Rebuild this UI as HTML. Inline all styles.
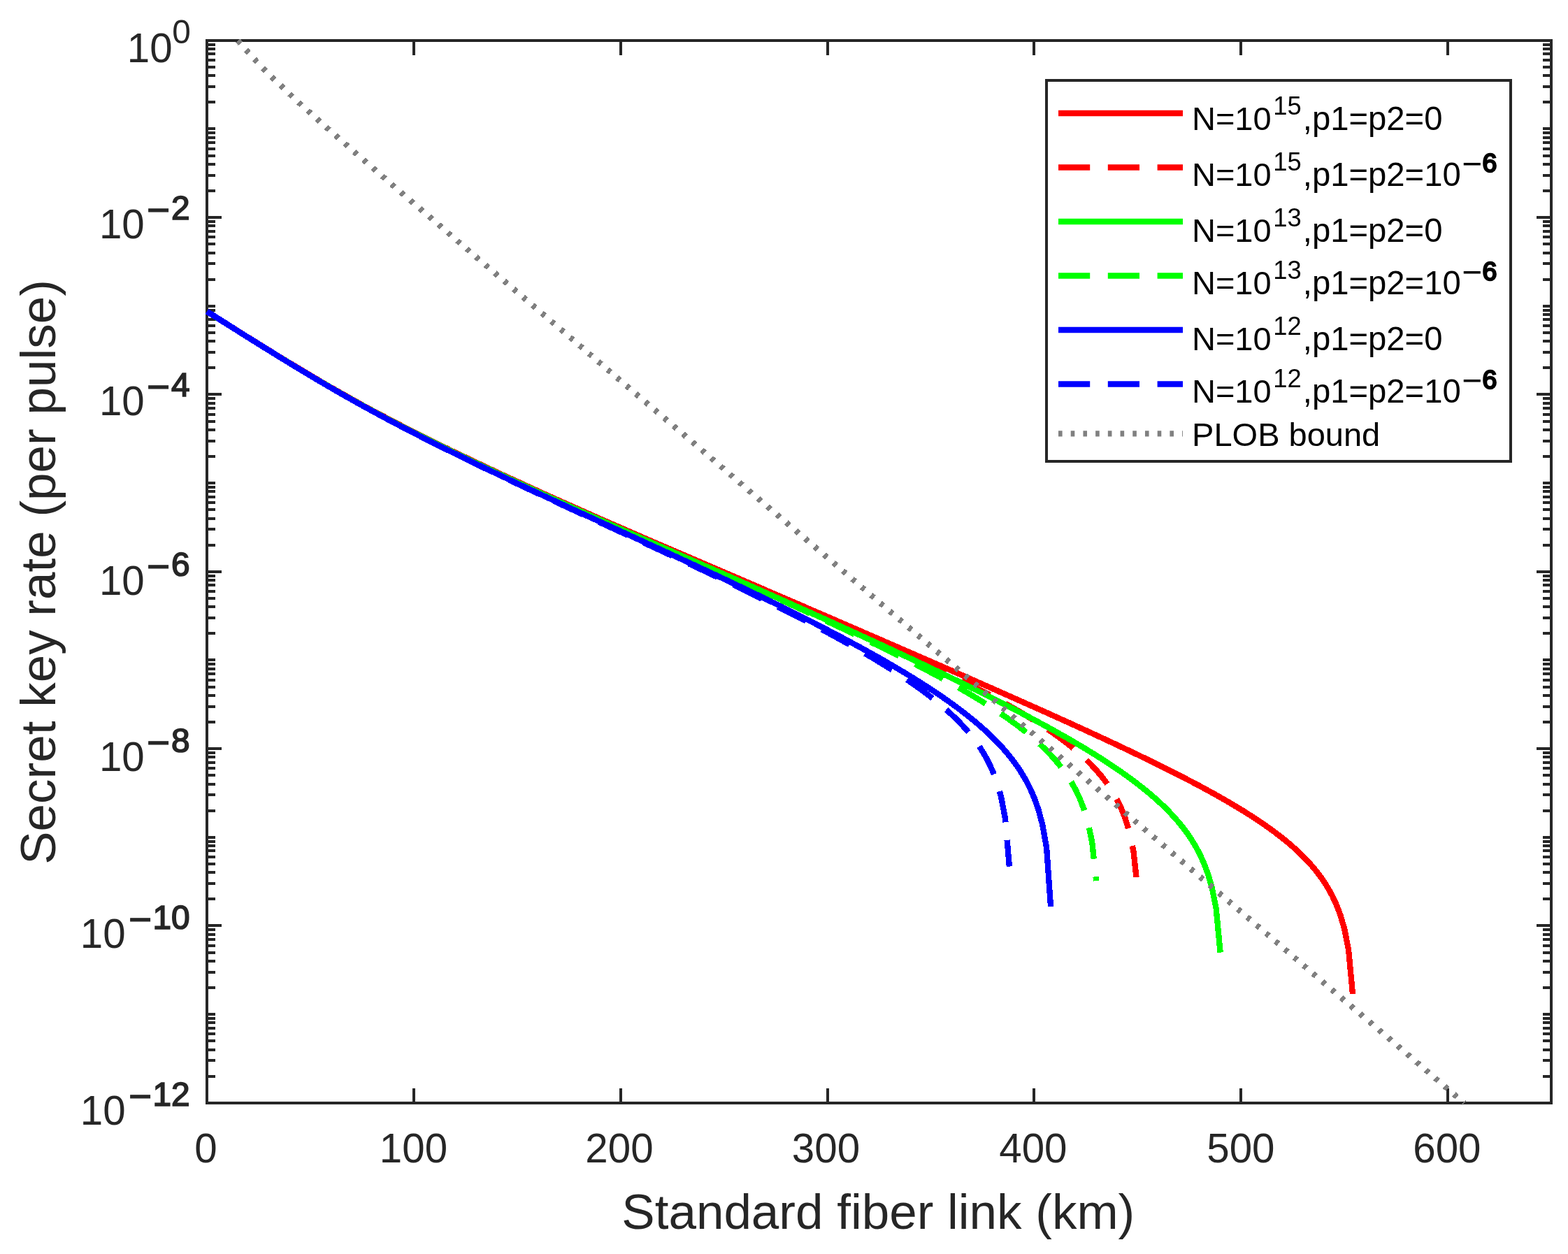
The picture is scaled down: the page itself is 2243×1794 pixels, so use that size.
<!DOCTYPE html>
<html lang="en"><head><meta charset="utf-8"><title>Secret key rate vs standard fiber link</title>
<style>html,body{margin:0;padding:0;background:#fff;overflow:hidden}svg text{white-space:pre}</style></head>
<body>
<svg xmlns="http://www.w3.org/2000/svg" width="2243" height="1794" viewBox="0 0 2243 1794" style="display:block">
<rect x="0" y="0" width="2243" height="1794" fill="#fff"/>
<g stroke="#262626" stroke-width="4" fill="none" shape-rendering="crispEdges">
<rect x="296.0" y="58.0" width="1923.0" height="1520.0"/>
<path d="M592 1578.0 V1557.0 M592 58.0 V79.0"/>
<path d="M888 1578.0 V1557.0 M888 58.0 V79.0"/>
<path d="M1184 1578.0 V1557.0 M1184 58.0 V79.0"/>
<path d="M1479 1578.0 V1557.0 M1479 58.0 V79.0"/>
<path d="M1775 1578.0 V1557.0 M1775 58.0 V79.0"/>
<path d="M2071 1578.0 V1557.0 M2071 58.0 V79.0"/>
<path d="M296.0 146 H308.0 M2219.0 146 H2207.0"/>
<path d="M296.0 124 H308.0 M2219.0 124 H2207.0"/>
<path d="M296.0 108 H308.0 M2219.0 108 H2207.0"/>
<path d="M296.0 96 H308.0 M2219.0 96 H2207.0"/>
<path d="M296.0 86 H308.0 M2219.0 86 H2207.0"/>
<path d="M296.0 77 H308.0 M2219.0 77 H2207.0"/>
<path d="M296.0 70 H308.0 M2219.0 70 H2207.0"/>
<path d="M296.0 64 H308.0 M2219.0 64 H2207.0"/>
<path d="M296.0 184 H308.0 M2219.0 184 H2207.0"/>
<path d="M296.0 273 H308.0 M2219.0 273 H2207.0"/>
<path d="M296.0 251 H308.0 M2219.0 251 H2207.0"/>
<path d="M296.0 235 H308.0 M2219.0 235 H2207.0"/>
<path d="M296.0 223 H308.0 M2219.0 223 H2207.0"/>
<path d="M296.0 213 H308.0 M2219.0 213 H2207.0"/>
<path d="M296.0 204 H308.0 M2219.0 204 H2207.0"/>
<path d="M296.0 197 H308.0 M2219.0 197 H2207.0"/>
<path d="M296.0 190 H308.0 M2219.0 190 H2207.0"/>
<path d="M296.0 311 H317.0 M2219.0 311 H2198.0"/>
<path d="M296.0 400 H308.0 M2219.0 400 H2207.0"/>
<path d="M296.0 377 H308.0 M2219.0 377 H2207.0"/>
<path d="M296.0 362 H308.0 M2219.0 362 H2207.0"/>
<path d="M296.0 349 H308.0 M2219.0 349 H2207.0"/>
<path d="M296.0 339 H308.0 M2219.0 339 H2207.0"/>
<path d="M296.0 331 H308.0 M2219.0 331 H2207.0"/>
<path d="M296.0 323 H308.0 M2219.0 323 H2207.0"/>
<path d="M296.0 317 H308.0 M2219.0 317 H2207.0"/>
<path d="M296.0 438 H308.0 M2219.0 438 H2207.0"/>
<path d="M296.0 526 H308.0 M2219.0 526 H2207.0"/>
<path d="M296.0 504 H308.0 M2219.0 504 H2207.0"/>
<path d="M296.0 488 H308.0 M2219.0 488 H2207.0"/>
<path d="M296.0 476 H308.0 M2219.0 476 H2207.0"/>
<path d="M296.0 466 H308.0 M2219.0 466 H2207.0"/>
<path d="M296.0 457 H308.0 M2219.0 457 H2207.0"/>
<path d="M296.0 450 H308.0 M2219.0 450 H2207.0"/>
<path d="M296.0 444 H308.0 M2219.0 444 H2207.0"/>
<path d="M296.0 564 H317.0 M2219.0 564 H2198.0"/>
<path d="M296.0 653 H308.0 M2219.0 653 H2207.0"/>
<path d="M296.0 631 H308.0 M2219.0 631 H2207.0"/>
<path d="M296.0 615 H308.0 M2219.0 615 H2207.0"/>
<path d="M296.0 603 H308.0 M2219.0 603 H2207.0"/>
<path d="M296.0 593 H308.0 M2219.0 593 H2207.0"/>
<path d="M296.0 584 H308.0 M2219.0 584 H2207.0"/>
<path d="M296.0 577 H308.0 M2219.0 577 H2207.0"/>
<path d="M296.0 570 H308.0 M2219.0 570 H2207.0"/>
<path d="M296.0 691 H308.0 M2219.0 691 H2207.0"/>
<path d="M296.0 780 H308.0 M2219.0 780 H2207.0"/>
<path d="M296.0 757 H308.0 M2219.0 757 H2207.0"/>
<path d="M296.0 742 H308.0 M2219.0 742 H2207.0"/>
<path d="M296.0 729 H308.0 M2219.0 729 H2207.0"/>
<path d="M296.0 719 H308.0 M2219.0 719 H2207.0"/>
<path d="M296.0 711 H308.0 M2219.0 711 H2207.0"/>
<path d="M296.0 703 H308.0 M2219.0 703 H2207.0"/>
<path d="M296.0 697 H308.0 M2219.0 697 H2207.0"/>
<path d="M296.0 818 H317.0 M2219.0 818 H2198.0"/>
<path d="M296.0 906 H308.0 M2219.0 906 H2207.0"/>
<path d="M296.0 884 H308.0 M2219.0 884 H2207.0"/>
<path d="M296.0 868 H308.0 M2219.0 868 H2207.0"/>
<path d="M296.0 856 H308.0 M2219.0 856 H2207.0"/>
<path d="M296.0 846 H308.0 M2219.0 846 H2207.0"/>
<path d="M296.0 837 H308.0 M2219.0 837 H2207.0"/>
<path d="M296.0 830 H308.0 M2219.0 830 H2207.0"/>
<path d="M296.0 824 H308.0 M2219.0 824 H2207.0"/>
<path d="M296.0 944 H308.0 M2219.0 944 H2207.0"/>
<path d="M296.0 1033 H308.0 M2219.0 1033 H2207.0"/>
<path d="M296.0 1011 H308.0 M2219.0 1011 H2207.0"/>
<path d="M296.0 995 H308.0 M2219.0 995 H2207.0"/>
<path d="M296.0 983 H308.0 M2219.0 983 H2207.0"/>
<path d="M296.0 973 H308.0 M2219.0 973 H2207.0"/>
<path d="M296.0 964 H308.0 M2219.0 964 H2207.0"/>
<path d="M296.0 957 H308.0 M2219.0 957 H2207.0"/>
<path d="M296.0 950 H308.0 M2219.0 950 H2207.0"/>
<path d="M296.0 1071 H317.0 M2219.0 1071 H2198.0"/>
<path d="M296.0 1160 H308.0 M2219.0 1160 H2207.0"/>
<path d="M296.0 1137 H308.0 M2219.0 1137 H2207.0"/>
<path d="M296.0 1122 H308.0 M2219.0 1122 H2207.0"/>
<path d="M296.0 1109 H308.0 M2219.0 1109 H2207.0"/>
<path d="M296.0 1099 H308.0 M2219.0 1099 H2207.0"/>
<path d="M296.0 1091 H308.0 M2219.0 1091 H2207.0"/>
<path d="M296.0 1083 H308.0 M2219.0 1083 H2207.0"/>
<path d="M296.0 1077 H308.0 M2219.0 1077 H2207.0"/>
<path d="M296.0 1198 H308.0 M2219.0 1198 H2207.0"/>
<path d="M296.0 1286 H308.0 M2219.0 1286 H2207.0"/>
<path d="M296.0 1264 H308.0 M2219.0 1264 H2207.0"/>
<path d="M296.0 1248 H308.0 M2219.0 1248 H2207.0"/>
<path d="M296.0 1236 H308.0 M2219.0 1236 H2207.0"/>
<path d="M296.0 1226 H308.0 M2219.0 1226 H2207.0"/>
<path d="M296.0 1217 H308.0 M2219.0 1217 H2207.0"/>
<path d="M296.0 1210 H308.0 M2219.0 1210 H2207.0"/>
<path d="M296.0 1204 H308.0 M2219.0 1204 H2207.0"/>
<path d="M296.0 1324 H317.0 M2219.0 1324 H2198.0"/>
<path d="M296.0 1413 H308.0 M2219.0 1413 H2207.0"/>
<path d="M296.0 1391 H308.0 M2219.0 1391 H2207.0"/>
<path d="M296.0 1375 H308.0 M2219.0 1375 H2207.0"/>
<path d="M296.0 1363 H308.0 M2219.0 1363 H2207.0"/>
<path d="M296.0 1353 H308.0 M2219.0 1353 H2207.0"/>
<path d="M296.0 1344 H308.0 M2219.0 1344 H2207.0"/>
<path d="M296.0 1337 H308.0 M2219.0 1337 H2207.0"/>
<path d="M296.0 1330 H308.0 M2219.0 1330 H2207.0"/>
<path d="M296.0 1451 H308.0 M2219.0 1451 H2207.0"/>
<path d="M296.0 1540 H308.0 M2219.0 1540 H2207.0"/>
<path d="M296.0 1517 H308.0 M2219.0 1517 H2207.0"/>
<path d="M296.0 1502 H308.0 M2219.0 1502 H2207.0"/>
<path d="M296.0 1489 H308.0 M2219.0 1489 H2207.0"/>
<path d="M296.0 1479 H308.0 M2219.0 1479 H2207.0"/>
<path d="M296.0 1471 H308.0 M2219.0 1471 H2207.0"/>
<path d="M296.0 1463 H308.0 M2219.0 1463 H2207.0"/>
<path d="M296.0 1457 H308.0 M2219.0 1457 H2207.0"/>
</g>
<g font-family="'Liberation Sans', sans-serif" fill="#262626">
<text x="294.5" y="1663.2" font-size="58.3" text-anchor="middle">0</text>
<text x="591.5" y="1663.2" font-size="58.3" text-anchor="middle">100</text>
<text x="886.0" y="1663.2" font-size="58.3" text-anchor="middle">200</text>
<text x="1181.5" y="1663.2" font-size="58.3" text-anchor="middle">300</text>
<text x="1477.9" y="1663.2" font-size="58.3" text-anchor="middle">400</text>
<text x="1774.9" y="1663.2" font-size="58.3" text-anchor="middle">500</text>
<text x="2069.9" y="1663.2" font-size="58.3" text-anchor="middle">600</text>
<text font-size="58.3"><tspan x="246.6" y="88.90" text-anchor="end">10</tspan><tspan x="272.8" y="61.80" text-anchor="end" font-size="47.8">0</tspan></text>
<text font-size="58.3"><tspan x="206.8" y="340.95" text-anchor="end">10</tspan><tspan x="209.7" y="319.55" font-size="57.5" stroke="#262626" stroke-width="1">−</tspan><tspan x="271.6" y="314.35" text-anchor="end" font-size="47.8" stroke="#262626" stroke-width="1.7">2</tspan></text>
<text font-size="58.3"><tspan x="206.8" y="593.90" text-anchor="end">10</tspan><tspan x="209.7" y="572.50" font-size="57.5" stroke="#262626" stroke-width="1">−</tspan><tspan x="271.6" y="567.30" text-anchor="end" font-size="47.8" stroke="#262626" stroke-width="1.7">4</tspan></text>
<text font-size="58.3"><tspan x="206.8" y="851.00" text-anchor="end">10</tspan><tspan x="209.7" y="829.60" font-size="57.5" stroke="#262626" stroke-width="1">−</tspan><tspan x="271.6" y="824.40" text-anchor="end" font-size="47.8" stroke="#262626" stroke-width="1.7">6</tspan></text>
<text font-size="58.3"><tspan x="206.8" y="1102.96" text-anchor="end">10</tspan><tspan x="209.7" y="1081.56" font-size="57.5" stroke="#262626" stroke-width="1">−</tspan><tspan x="271.6" y="1076.36" text-anchor="end" font-size="47.8" stroke="#262626" stroke-width="1.7">8</tspan></text>
<text font-size="58.3"><tspan x="179.6" y="1355.95" text-anchor="end">10</tspan><tspan x="183.7" y="1334.55" font-size="57.5" stroke="#262626" stroke-width="1">−</tspan><tspan x="271.6" y="1329.35" text-anchor="end" font-size="47.8" stroke="#262626" stroke-width="1.7">10</tspan></text>
<text font-size="58.3"><tspan x="179.6" y="1608.90" text-anchor="end">10</tspan><tspan x="183.7" y="1587.50" font-size="57.5" stroke="#262626" stroke-width="1">−</tspan><tspan x="271.6" y="1582.30" text-anchor="end" font-size="47.8" stroke="#262626" stroke-width="1.7">12</tspan></text>
<text x="1256.3" y="1757.7" font-size="71.0" text-anchor="middle">Standard fiber link (km)</text>
<text transform="translate(79.3 818.5) rotate(-90)" font-size="71.0" text-anchor="middle">Secret key rate (per pulse)</text>
</g>
<g shape-rendering="crispEdges">
<path d="M296.00 445.65 L301.92 449.38 L307.83 453.11 L313.75 456.84 L319.67 460.57 L325.58 464.29 L331.50 468.01 L337.42 471.72 L343.34 475.43 L349.25 479.14 L355.17 482.83 L361.09 486.53 L367.00 490.21 L372.92 493.88 L378.84 497.55 L384.75 501.20 L390.67 504.85 L396.59 508.48 L402.50 512.10 L408.42 515.71 L414.34 519.31 L420.26 522.89 L426.17 526.45 L432.09 530.00 L438.01 533.54 L443.92 537.05 L449.84 540.55 L455.76 544.03 L461.67 547.49 L467.59 550.93 L473.51 554.35 L479.42 557.75 L485.34 561.13 L491.26 564.48 L497.18 567.81 L503.09 571.12 L509.01 574.40 L514.93 577.66 L520.84 580.90 L526.76 584.12 L532.68 587.31 L538.59 590.48 L544.51 593.64 L550.43 596.77 L556.34 599.88 L562.26 602.97 L568.18 606.04 L574.10 609.10 L580.01 612.14 L585.93 615.16 L591.85 618.16 L597.76 621.14 L603.68 624.11 L609.60 627.07 L615.51 630.01 L621.43 632.93 L627.35 635.84 L633.26 638.74 L639.18 641.62 L645.10 644.49 L651.02 647.35 L656.93 650.19 L662.85 653.02 L668.77 655.85 L674.68 658.66 L680.60 661.46 L686.52 664.25 L692.43 667.04 L698.35 669.81 L704.27 672.58 L710.18 675.34 L716.10 678.09 L722.02 680.83 L727.94 683.56 L733.85 686.29 L739.77 689.01 L745.69 691.72 L751.60 694.42 L757.52 697.12 L763.44 699.81 L769.35 702.49 L775.27 705.17 L781.19 707.84 L787.10 710.50 L793.02 713.16 L798.94 715.81 L804.86 718.46 L810.77 721.10 L816.69 723.73 L822.61 726.36 L828.52 728.98 L834.44 731.60 L840.36 734.21 L846.27 736.82 L852.19 739.42 L858.11 742.02 L864.02 744.61 L869.94 747.20 L875.86 749.79 L881.78 752.37 L887.69 754.95 L893.61 757.52 L899.53 760.09 L905.44 762.66 L911.36 765.22 L917.28 767.78 L923.19 770.34 L929.11 772.89 L935.03 775.45 L940.94 778.00 L946.86 780.54 L952.78 783.09 L958.70 785.63 L964.61 788.17 L970.53 790.71 L976.45 793.25 L982.36 795.79 L988.28 798.32 L994.20 800.86 L1000.11 803.40 L1006.03 805.93 L1011.95 808.46 L1017.86 811.00 L1023.78 813.53 L1029.70 816.07 L1035.62 818.60 L1041.53 821.14 L1047.45 823.67 L1053.37 826.21 L1059.28 828.75 L1065.20 831.29 L1071.12 833.83 L1077.03 836.37 L1082.95 838.91 L1088.87 841.46 L1094.78 844.01 L1100.70 846.56 L1106.62 849.11 L1112.54 851.66 L1118.45 854.21 L1124.37 856.76 L1130.29 859.31 L1136.20 861.87 L1142.12 864.42 L1148.04 866.97 L1153.95 869.53 L1159.87 872.08 L1165.79 874.63 L1171.70 877.19 L1177.62 879.74 L1183.54 882.30 L1189.46 884.86 L1195.37 887.41 L1201.29 889.97 L1207.21 892.53 L1213.12 895.09 L1219.04 897.65 L1224.96 900.21 L1230.87 902.77 L1236.79 905.33 L1242.71 907.89 L1248.62 910.46 L1254.54 913.02 L1260.46 915.58 L1266.38 918.15 L1272.29 920.72 L1278.21 923.28 L1284.13 925.85 L1290.04 928.42 L1295.96 930.99 L1301.88 933.57 L1307.79 936.14 L1313.71 938.71 L1319.63 941.29 L1325.54 943.87 L1331.46 946.45 L1337.38 949.03 L1343.30 951.61 L1349.21 954.19 L1355.13 956.78 L1361.05 959.36 L1366.96 961.95 L1372.88 964.54 L1378.80 967.13 L1384.71 969.73 L1390.63 972.32 L1396.55 974.92 L1402.46 977.52 L1408.38 980.13 L1414.30 982.73 L1420.22 985.34 L1426.13 987.95 L1432.05 990.57 L1437.97 993.18 L1443.88 995.80 L1449.80 998.43 L1455.72 1001.05 L1461.63 1003.68 L1467.55 1006.32 L1473.47 1008.96 L1479.38 1011.60 L1485.30 1014.25 L1491.22 1016.90 L1497.14 1019.55 L1503.05 1022.21 L1508.97 1024.88 L1514.89 1027.55 L1520.80 1030.22 L1526.72 1032.91 L1532.64 1035.59 L1538.55 1038.29 L1544.47 1040.99 L1550.39 1043.70 L1556.30 1046.41 L1562.22 1049.13 L1568.14 1051.87 L1574.06 1054.61 L1579.97 1057.35 L1585.89 1060.11 L1591.81 1062.88 L1597.72 1065.66 L1603.64 1068.44 L1609.56 1071.24 L1615.47 1074.05 L1621.39 1076.88 L1627.31 1079.71 L1633.22 1082.56 L1639.14 1085.43 L1645.06 1088.31 L1650.98 1091.21 L1656.89 1094.12 L1662.81 1097.05 L1668.73 1100.00 L1674.64 1102.97 L1680.56 1105.96 L1686.48 1108.98 L1692.39 1112.02 L1698.31 1115.08 L1704.23 1118.17 L1710.14 1121.29 L1716.06 1124.44 L1721.98 1127.62 L1727.90 1130.84 L1733.81 1134.09 L1739.73 1137.38 L1745.65 1140.71 L1751.56 1144.09 L1757.48 1147.52 L1763.40 1151.00 L1769.31 1154.54 L1775.23 1158.13 L1781.15 1161.80 L1787.06 1165.53 L1792.98 1169.34 L1798.90 1173.24 L1804.82 1177.22 L1810.73 1181.31 L1816.65 1185.51 L1822.57 1189.84 L1828.48 1194.30 L1834.40 1198.92 L1840.32 1203.71 L1846.23 1208.69 L1852.15 1213.90 L1858.07 1219.36 L1863.98 1225.12 L1869.90 1231.23 L1875.82 1237.75 L1881.74 1244.76 L1887.65 1252.38 L1893.57 1260.76 L1899.49 1270.13 L1905.40 1280.81 L1911.32 1293.35 L1917.24 1308.70 L1923.15 1328.77 L1929.07 1358.60 L1934.99 1421.93" fill="none" stroke="#ff0000" stroke-width="8.33" stroke-linejoin="round" stroke-linecap="butt"/>
<path d="M296.00 445.49 L301.92 449.22 L307.83 452.95 L313.75 456.68 L319.67 460.40 L325.58 464.13 L331.50 467.84 L337.42 471.56 L343.34 475.27 L349.25 478.97 L355.17 482.67 L361.09 486.36 L367.00 490.05 L372.92 493.72 L378.84 497.39 L384.75 501.04 L390.67 504.69 L396.59 508.32 L402.50 511.94 L408.42 515.55 L414.34 519.14 L420.26 522.73 L426.17 526.29 L432.09 529.84 L438.01 533.38 L443.92 536.89 L449.84 540.39 L455.76 543.87 L461.67 547.33 L467.59 550.77 L473.51 554.20 L479.42 557.59 L485.34 560.97 L491.26 564.33 L497.18 567.66 L503.09 570.96 L509.01 574.25 L514.93 577.51 L520.84 580.75 L526.76 583.96 L532.68 587.16 L538.59 590.33 L544.51 593.48 L550.43 596.62 L556.34 599.73 L562.26 602.82 L568.18 605.89 L574.10 608.95 L580.01 611.99 L585.93 615.01 L591.85 618.01 L597.76 621.00 L603.68 623.97 L609.60 626.93 L615.51 629.87 L621.43 632.79 L627.35 635.70 L633.26 638.60 L639.18 641.48 L645.10 644.35 L651.02 647.21 L656.93 650.06 L662.85 652.89 L668.77 655.72 L674.68 658.53 L680.60 661.34 L686.52 664.13 L692.43 666.92 L698.35 669.69 L704.27 672.46 L710.18 675.22 L716.10 677.97 L722.02 680.72 L727.94 683.45 L733.85 686.18 L739.77 688.91 L745.69 691.62 L751.60 694.33 L757.52 697.03 L763.44 699.72 L769.35 702.41 L775.27 705.09 L781.19 707.76 L787.10 710.43 L793.02 713.09 L798.94 715.75 L804.86 718.40 L810.77 721.04 L816.69 723.68 L822.61 726.31 L828.52 728.94 L834.44 731.57 L840.36 734.18 L846.27 736.80 L852.19 739.41 L858.11 742.01 L864.02 744.61 L869.94 747.21 L875.86 749.80 L881.78 752.39 L887.69 754.98 L893.61 757.56 L899.53 760.14 L905.44 762.72 L911.36 765.29 L917.28 767.86 L923.19 770.43 L929.11 772.99 L935.03 775.56 L940.94 778.12 L946.86 780.68 L952.78 783.24 L958.70 785.80 L964.61 788.35 L970.53 790.91 L976.45 793.46 L982.36 796.02 L988.28 798.57 L994.20 801.13 L1000.11 803.68 L1006.03 806.23 L1011.95 808.79 L1017.86 811.35 L1023.78 813.90 L1029.70 816.46 L1035.62 819.02 L1041.53 821.58 L1047.45 824.15 L1053.37 826.71 L1059.28 829.28 L1065.20 831.85 L1071.12 834.42 L1077.03 837.00 L1082.95 839.58 L1088.87 842.16 L1094.78 844.75 L1100.70 847.34 L1106.62 849.94 L1112.54 852.53 L1118.45 855.13 L1124.37 857.73 L1130.29 860.34 L1136.20 862.94 L1142.12 865.55 L1148.04 868.16 L1153.95 870.78 L1159.87 873.40 L1165.79 876.02 L1171.70 878.64 L1177.62 881.27 L1183.54 883.91 L1189.46 886.54 L1195.37 889.19 L1201.29 891.83 L1207.21 894.48 L1213.12 897.14 L1219.04 899.80 L1224.96 902.47 L1230.87 905.14 L1236.79 907.82 L1242.71 910.51 L1248.62 913.20 L1254.54 915.90 L1260.46 918.61 L1266.38 921.32 L1272.29 924.04 L1278.21 926.78 L1284.13 929.52 L1290.04 932.27 L1295.96 935.03 L1301.88 937.80 L1307.79 940.58 L1313.71 943.37 L1319.63 946.18 L1325.54 949.00 L1331.46 951.83 L1337.38 954.68 L1343.30 957.54 L1349.21 960.42 L1355.13 963.31 L1361.05 966.23 L1366.96 969.16 L1372.88 972.11 L1378.80 975.09 L1384.71 978.09 L1390.63 981.11 L1396.55 984.16 L1402.46 987.23 L1408.38 990.34 L1414.30 993.47 L1420.22 996.64 L1426.13 999.85 L1432.05 1003.09 L1437.97 1006.37 L1443.88 1009.70 L1449.80 1013.07 L1455.72 1016.50 L1461.63 1019.98 L1467.55 1023.52 L1473.47 1027.12 L1479.38 1030.79 L1485.30 1034.54 L1491.22 1038.37 L1497.14 1042.29 L1503.05 1046.31 L1508.97 1050.44 L1514.89 1054.69 L1520.80 1059.07 L1526.72 1063.61 L1532.64 1068.31 L1538.55 1073.20 L1544.47 1078.32 L1550.39 1083.68 L1556.30 1089.33 L1562.22 1095.31 L1568.14 1101.70 L1574.06 1108.57 L1579.97 1116.02 L1585.89 1124.21 L1591.81 1133.35 L1597.72 1143.74 L1603.64 1155.90 L1609.56 1170.67 L1615.47 1189.79 L1621.39 1217.53 L1627.31 1271.40" fill="none" stroke="#ff0000" stroke-width="8.33" stroke-linejoin="round" stroke-linecap="butt" stroke-dasharray="45.2 25.6" stroke-dashoffset="0"/>
<path d="M296.00 445.69 L301.92 449.42 L307.83 453.16 L313.75 456.89 L319.67 460.62 L325.58 464.35 L331.50 468.08 L337.42 471.80 L343.34 475.52 L349.25 479.23 L355.17 482.93 L361.09 486.63 L367.00 490.32 L372.92 494.01 L378.84 497.68 L384.75 501.34 L390.67 504.99 L396.59 508.63 L402.50 512.26 L408.42 515.88 L414.34 519.48 L420.26 523.07 L426.17 526.65 L432.09 530.21 L438.01 533.75 L443.92 537.27 L449.84 540.78 L455.76 544.27 L461.67 547.74 L467.59 551.19 L473.51 554.62 L479.42 558.03 L485.34 561.42 L491.26 564.78 L497.18 568.12 L503.09 571.44 L509.01 574.74 L514.93 578.01 L520.84 581.26 L526.76 584.48 L532.68 587.69 L538.59 590.87 L544.51 594.04 L550.43 597.18 L556.34 600.31 L562.26 603.41 L568.18 606.50 L574.10 609.57 L580.01 612.62 L585.93 615.65 L591.85 618.67 L597.76 621.67 L603.68 624.65 L609.60 627.62 L615.51 630.57 L621.43 633.51 L627.35 636.44 L633.26 639.35 L639.18 642.25 L645.10 645.13 L651.02 648.01 L656.93 650.87 L662.85 653.72 L668.77 656.56 L674.68 659.39 L680.60 662.21 L686.52 665.02 L692.43 667.83 L698.35 670.62 L704.27 673.41 L710.18 676.18 L716.10 678.95 L722.02 681.72 L727.94 684.47 L733.85 687.22 L739.77 689.96 L745.69 692.70 L751.60 695.42 L757.52 698.14 L763.44 700.86 L769.35 703.56 L775.27 706.27 L781.19 708.96 L787.10 711.65 L793.02 714.34 L798.94 717.01 L804.86 719.69 L810.77 722.36 L816.69 725.02 L822.61 727.68 L828.52 730.33 L834.44 732.98 L840.36 735.62 L846.27 738.26 L852.19 740.90 L858.11 743.53 L864.02 746.16 L869.94 748.78 L875.86 751.40 L881.78 754.02 L887.69 756.63 L893.61 759.24 L899.53 761.85 L905.44 764.46 L911.36 767.06 L917.28 769.66 L923.19 772.26 L929.11 774.86 L935.03 777.46 L940.94 780.05 L946.86 782.64 L952.78 785.24 L958.70 787.83 L964.61 790.42 L970.53 793.01 L976.45 795.60 L982.36 798.19 L988.28 800.78 L994.20 803.37 L1000.11 805.96 L1006.03 808.55 L1011.95 811.14 L1017.86 813.74 L1023.78 816.33 L1029.70 818.93 L1035.62 821.53 L1041.53 824.13 L1047.45 826.73 L1053.37 829.34 L1059.28 831.95 L1065.20 834.56 L1071.12 837.17 L1077.03 839.79 L1082.95 842.41 L1088.87 845.04 L1094.78 847.67 L1100.70 850.30 L1106.62 852.94 L1112.54 855.58 L1118.45 858.22 L1124.37 860.86 L1130.29 863.51 L1136.20 866.16 L1142.12 868.81 L1148.04 871.46 L1153.95 874.12 L1159.87 876.78 L1165.79 879.44 L1171.70 882.11 L1177.62 884.78 L1183.54 887.45 L1189.46 890.13 L1195.37 892.81 L1201.29 895.50 L1207.21 898.18 L1213.12 900.88 L1219.04 903.57 L1224.96 906.28 L1230.87 908.98 L1236.79 911.69 L1242.71 914.41 L1248.62 917.13 L1254.54 919.85 L1260.46 922.58 L1266.38 925.32 L1272.29 928.06 L1278.21 930.80 L1284.13 933.56 L1290.04 936.32 L1295.96 939.08 L1301.88 941.85 L1307.79 944.63 L1313.71 947.42 L1319.63 950.21 L1325.54 953.01 L1331.46 955.82 L1337.38 958.64 L1343.30 961.46 L1349.21 964.30 L1355.13 967.14 L1361.05 970.00 L1366.96 972.86 L1372.88 975.73 L1378.80 978.62 L1384.71 981.51 L1390.63 984.42 L1396.55 987.34 L1402.46 990.27 L1408.38 993.21 L1414.30 996.17 L1420.22 999.14 L1426.13 1002.13 L1432.05 1005.13 L1437.97 1008.15 L1443.88 1011.18 L1449.80 1014.23 L1455.72 1017.30 L1461.63 1020.39 L1467.55 1023.50 L1473.47 1026.64 L1479.38 1029.79 L1485.30 1032.97 L1491.22 1036.17 L1497.14 1039.40 L1503.05 1042.65 L1508.97 1045.93 L1514.89 1049.25 L1520.80 1052.59 L1526.72 1055.97 L1532.64 1059.39 L1538.55 1062.84 L1544.47 1066.33 L1550.39 1069.87 L1556.30 1073.45 L1562.22 1077.08 L1568.14 1080.76 L1574.06 1084.50 L1579.97 1088.30 L1585.89 1092.16 L1591.81 1096.09 L1597.72 1100.10 L1603.64 1104.19 L1609.56 1108.36 L1615.47 1112.64 L1621.39 1117.01 L1627.31 1121.51 L1633.22 1126.13 L1639.14 1130.89 L1645.06 1135.81 L1650.98 1140.91 L1656.89 1146.20 L1662.81 1151.72 L1668.73 1157.50 L1674.64 1163.58 L1680.56 1170.01 L1686.48 1176.85 L1692.39 1184.19 L1698.31 1192.14 L1704.23 1200.86 L1710.14 1210.55 L1716.06 1221.56 L1721.98 1234.42 L1727.90 1250.06 L1733.81 1270.39 L1739.73 1300.32 L1745.65 1362.65" fill="none" stroke="#00ff00" stroke-width="8.33" stroke-linejoin="round" stroke-linecap="butt"/>
<path d="M296.00 445.68 L301.92 449.42 L307.83 453.15 L313.75 456.89 L319.67 460.62 L325.58 464.35 L331.50 468.07 L337.42 471.80 L343.34 475.51 L349.25 479.22 L355.17 482.93 L361.09 486.63 L367.00 490.32 L372.92 494.00 L378.84 497.67 L384.75 501.34 L390.67 504.99 L396.59 508.63 L402.50 512.26 L408.42 515.88 L414.34 519.48 L420.26 523.07 L426.17 526.65 L432.09 530.20 L438.01 533.75 L443.92 537.27 L449.84 540.78 L455.76 544.27 L461.67 547.74 L467.59 551.19 L473.51 554.62 L479.42 558.03 L485.34 561.42 L491.26 564.79 L497.18 568.13 L503.09 571.44 L509.01 574.74 L514.93 578.01 L520.84 581.26 L526.76 584.49 L532.68 587.69 L538.59 590.88 L544.51 594.04 L550.43 597.18 L556.34 600.31 L562.26 603.41 L568.18 606.50 L574.10 609.57 L580.01 612.62 L585.93 615.65 L591.85 618.67 L597.76 621.67 L603.68 624.66 L609.60 627.62 L615.51 630.58 L621.43 633.52 L627.35 636.44 L633.26 639.36 L639.18 642.25 L645.10 645.14 L651.02 648.02 L656.93 650.88 L662.85 653.73 L668.77 656.57 L674.68 659.40 L680.60 662.22 L686.52 665.03 L692.43 667.84 L698.35 670.63 L704.27 673.42 L710.18 676.20 L716.10 678.97 L722.02 681.73 L727.94 684.49 L733.85 687.24 L739.77 689.98 L745.69 692.71 L751.60 695.44 L757.52 698.16 L763.44 700.88 L769.35 703.59 L775.27 706.29 L781.19 708.99 L787.10 711.68 L793.02 714.37 L798.94 717.05 L804.86 719.72 L810.77 722.39 L816.69 725.06 L822.61 727.72 L828.52 730.37 L834.44 733.02 L840.36 735.67 L846.27 738.31 L852.19 740.95 L858.11 743.59 L864.02 746.22 L869.94 748.85 L875.86 751.47 L881.78 754.10 L887.69 756.71 L893.61 759.33 L899.53 761.95 L905.44 764.56 L911.36 767.17 L917.28 769.78 L923.19 772.38 L929.11 774.99 L935.03 777.59 L940.94 780.19 L946.86 782.80 L952.78 785.40 L958.70 788.00 L964.61 790.60 L970.53 793.20 L976.45 795.81 L982.36 798.41 L988.28 801.01 L994.20 803.62 L1000.11 806.22 L1006.03 808.83 L1011.95 811.44 L1017.86 814.05 L1023.78 816.67 L1029.70 819.29 L1035.62 821.91 L1041.53 824.53 L1047.45 827.16 L1053.37 829.79 L1059.28 832.42 L1065.20 835.06 L1071.12 837.71 L1077.03 840.36 L1082.95 843.01 L1088.87 845.67 L1094.78 848.34 L1100.70 851.01 L1106.62 853.69 L1112.54 856.37 L1118.45 859.06 L1124.37 861.75 L1130.29 864.45 L1136.20 867.15 L1142.12 869.86 L1148.04 872.57 L1153.95 875.29 L1159.87 878.02 L1165.79 880.75 L1171.70 883.49 L1177.62 886.24 L1183.54 889.00 L1189.46 891.76 L1195.37 894.53 L1201.29 897.31 L1207.21 900.10 L1213.12 902.90 L1219.04 905.71 L1224.96 908.53 L1230.87 911.36 L1236.79 914.21 L1242.71 917.06 L1248.62 919.93 L1254.54 922.81 L1260.46 925.70 L1266.38 928.61 L1272.29 931.54 L1278.21 934.48 L1284.13 937.43 L1290.04 940.41 L1295.96 943.40 L1301.88 946.42 L1307.79 949.45 L1313.71 952.51 L1319.63 955.59 L1325.54 958.69 L1331.46 961.83 L1337.38 964.98 L1343.30 968.17 L1349.21 971.39 L1355.13 974.64 L1361.05 977.93 L1366.96 981.26 L1372.88 984.62 L1378.80 988.03 L1384.71 991.48 L1390.63 994.99 L1396.55 998.54 L1402.46 1002.15 L1408.38 1005.83 L1414.30 1009.57 L1420.22 1013.38 L1426.13 1017.27 L1432.05 1021.24 L1437.97 1025.31 L1443.88 1029.47 L1449.80 1033.75 L1455.72 1038.16 L1461.63 1042.70 L1467.55 1047.39 L1473.47 1052.25 L1479.38 1057.31 L1485.30 1062.59 L1491.22 1068.12 L1497.14 1073.94 L1503.05 1080.11 L1508.97 1086.67 L1514.89 1093.72 L1520.80 1101.37 L1526.72 1109.76 L1532.64 1119.10 L1538.55 1129.71 L1544.47 1142.10 L1550.39 1157.14 L1556.30 1176.58 L1562.22 1204.82 L1568.14 1260.21" fill="none" stroke="#00ff00" stroke-width="8.33" stroke-linejoin="round" stroke-linecap="butt" stroke-dasharray="45.2 25.6" stroke-dashoffset="0"/>
<path d="M296.00 445.62 L301.92 449.36 L307.83 453.10 L313.75 456.84 L319.67 460.58 L325.58 464.32 L331.50 468.05 L337.42 471.78 L343.34 475.50 L349.25 479.22 L355.17 482.93 L361.09 486.64 L367.00 490.33 L372.92 494.02 L378.84 497.71 L384.75 501.38 L390.67 505.04 L396.59 508.69 L402.50 512.33 L408.42 515.95 L414.34 519.57 L420.26 523.17 L426.17 526.75 L432.09 530.32 L438.01 533.88 L443.92 537.42 L449.84 540.94 L455.76 544.44 L461.67 547.92 L467.59 551.39 L473.51 554.83 L479.42 558.26 L485.34 561.66 L491.26 565.04 L497.18 568.40 L503.09 571.73 L509.01 575.04 L514.93 578.33 L520.84 581.60 L526.76 584.84 L532.68 588.07 L538.59 591.27 L544.51 594.46 L550.43 597.62 L556.34 600.77 L562.26 603.89 L568.18 607.00 L574.10 610.09 L580.01 613.17 L585.93 616.23 L591.85 619.27 L597.76 622.30 L603.68 625.31 L609.60 628.30 L615.51 631.29 L621.43 634.26 L627.35 637.21 L633.26 640.15 L639.18 643.08 L645.10 646.00 L651.02 648.91 L656.93 651.81 L662.85 654.69 L668.77 657.57 L674.68 660.44 L680.60 663.30 L686.52 666.15 L692.43 668.99 L698.35 671.83 L704.27 674.66 L710.18 677.48 L716.10 680.29 L722.02 683.10 L727.94 685.91 L733.85 688.70 L739.77 691.49 L745.69 694.28 L751.60 697.06 L757.52 699.83 L763.44 702.60 L769.35 705.37 L775.27 708.13 L781.19 710.88 L787.10 713.64 L793.02 716.38 L798.94 719.13 L804.86 721.87 L810.77 724.60 L816.69 727.34 L822.61 730.07 L828.52 732.79 L834.44 735.52 L840.36 738.24 L846.27 740.96 L852.19 743.68 L858.11 746.39 L864.02 749.11 L869.94 751.82 L875.86 754.53 L881.78 757.24 L887.69 759.95 L893.61 762.66 L899.53 765.37 L905.44 768.08 L911.36 770.79 L917.28 773.50 L923.19 776.21 L929.11 778.92 L935.03 781.64 L940.94 784.35 L946.86 787.07 L952.78 789.79 L958.70 792.51 L964.61 795.24 L970.53 797.97 L976.45 800.70 L982.36 803.43 L988.28 806.17 L994.20 808.92 L1000.11 811.67 L1006.03 814.42 L1011.95 817.18 L1017.86 819.95 L1023.78 822.72 L1029.70 825.49 L1035.62 828.28 L1041.53 831.07 L1047.45 833.87 L1053.37 836.68 L1059.28 839.50 L1065.20 842.32 L1071.12 845.16 L1077.03 848.00 L1082.95 850.86 L1088.87 853.72 L1094.78 856.60 L1100.70 859.49 L1106.62 862.38 L1112.54 865.29 L1118.45 868.21 L1124.37 871.14 L1130.29 874.08 L1136.20 877.03 L1142.12 880.00 L1148.04 882.98 L1153.95 885.97 L1159.87 888.97 L1165.79 891.99 L1171.70 895.03 L1177.62 898.08 L1183.54 901.14 L1189.46 904.22 L1195.37 907.32 L1201.29 910.44 L1207.21 913.58 L1213.12 916.73 L1219.04 919.91 L1224.96 923.11 L1230.87 926.33 L1236.79 929.58 L1242.71 932.85 L1248.62 936.14 L1254.54 939.46 L1260.46 942.82 L1266.38 946.20 L1272.29 949.61 L1278.21 953.06 L1284.13 956.55 L1290.04 960.07 L1295.96 963.63 L1301.88 967.23 L1307.79 970.88 L1313.71 974.57 L1319.63 978.32 L1325.54 982.12 L1331.46 985.98 L1337.38 989.90 L1343.30 993.89 L1349.21 997.95 L1355.13 1002.08 L1361.05 1006.30 L1366.96 1010.61 L1372.88 1015.03 L1378.80 1019.55 L1384.71 1024.19 L1390.63 1028.96 L1396.55 1033.88 L1402.46 1038.96 L1408.38 1044.22 L1414.30 1049.69 L1420.22 1055.39 L1426.13 1061.36 L1432.05 1067.64 L1437.97 1074.28 L1443.88 1081.35 L1449.80 1088.95 L1455.72 1097.18 L1461.63 1106.22 L1467.55 1116.30 L1473.47 1127.78 L1479.38 1141.27 L1485.30 1157.83 L1491.22 1179.71 L1497.14 1213.23 L1503.05 1297.21" fill="none" stroke="#0000ff" stroke-width="8.33" stroke-linejoin="round" stroke-linecap="butt"/>
<path d="M296.00 445.37 L301.92 449.12 L307.83 452.87 L313.75 456.61 L319.67 460.35 L325.58 464.09 L331.50 467.83 L337.42 471.56 L343.34 475.29 L349.25 479.02 L355.17 482.73 L361.09 486.45 L367.00 490.15 L372.92 493.85 L378.84 497.53 L384.75 501.21 L390.67 504.88 L396.59 508.54 L402.50 512.18 L408.42 515.81 L414.34 519.43 L420.26 523.04 L426.17 526.63 L432.09 530.21 L438.01 533.77 L443.92 537.32 L449.84 540.85 L455.76 544.36 L461.67 547.85 L467.59 551.32 L473.51 554.77 L479.42 558.20 L485.34 561.61 L491.26 565.00 L497.18 568.37 L503.09 571.71 L509.01 575.03 L514.93 578.33 L520.84 581.61 L526.76 584.86 L532.68 588.09 L538.59 591.31 L544.51 594.50 L550.43 597.68 L556.34 600.83 L562.26 603.97 L568.18 607.09 L574.10 610.19 L580.01 613.28 L585.93 616.35 L591.85 619.40 L597.76 622.44 L603.68 625.46 L609.60 628.47 L615.51 631.46 L621.43 634.45 L627.35 637.41 L633.26 640.37 L639.18 643.31 L645.10 646.24 L651.02 649.17 L656.93 652.08 L662.85 654.98 L668.77 657.87 L674.68 660.75 L680.60 663.62 L686.52 666.49 L692.43 669.35 L698.35 672.20 L704.27 675.04 L710.18 677.88 L716.10 680.71 L722.02 683.53 L727.94 686.35 L733.85 689.17 L739.77 691.97 L745.69 694.78 L751.60 697.57 L757.52 700.37 L763.44 703.15 L769.35 705.94 L775.27 708.72 L781.19 711.49 L787.10 714.26 L793.02 717.03 L798.94 719.79 L804.86 722.55 L810.77 725.31 L816.69 728.06 L822.61 730.81 L828.52 733.56 L834.44 736.31 L840.36 739.05 L846.27 741.79 L852.19 744.54 L858.11 747.27 L864.02 750.01 L869.94 752.75 L875.86 755.49 L881.78 758.22 L887.69 760.96 L893.61 763.69 L899.53 766.43 L905.44 769.17 L911.36 771.90 L917.28 774.64 L923.19 777.38 L929.11 780.13 L935.03 782.87 L940.94 785.61 L946.86 788.36 L952.78 791.12 L958.70 793.87 L964.61 796.63 L970.53 799.39 L976.45 802.16 L982.36 804.93 L988.28 807.70 L994.20 810.49 L1000.11 813.27 L1006.03 816.07 L1011.95 818.87 L1017.86 821.67 L1023.78 824.48 L1029.70 827.31 L1035.62 830.14 L1041.53 832.97 L1047.45 835.82 L1053.37 838.68 L1059.28 841.54 L1065.20 844.42 L1071.12 847.31 L1077.03 850.20 L1082.95 853.12 L1088.87 856.04 L1094.78 858.97 L1100.70 861.92 L1106.62 864.89 L1112.54 867.86 L1118.45 870.85 L1124.37 873.85 L1130.29 876.86 L1136.20 879.89 L1142.12 882.94 L1148.04 886.00 L1153.95 889.08 L1159.87 892.18 L1165.79 895.29 L1171.70 898.43 L1177.62 901.58 L1183.54 904.76 L1189.46 907.96 L1195.37 911.18 L1201.29 914.43 L1207.21 917.70 L1213.12 921.01 L1219.04 924.34 L1224.96 927.70 L1230.87 931.10 L1236.79 934.53 L1242.71 937.99 L1248.62 941.50 L1254.54 945.05 L1260.46 948.65 L1266.38 952.29 L1272.29 955.99 L1278.21 959.74 L1284.13 963.55 L1290.04 967.43 L1295.96 971.38 L1301.88 975.40 L1307.79 979.51 L1313.71 983.71 L1319.63 988.01 L1325.54 992.43 L1331.46 996.96 L1337.38 1001.63 L1343.30 1006.46 L1349.21 1011.45 L1355.13 1016.64 L1361.05 1022.05 L1366.96 1027.71 L1372.88 1033.67 L1378.80 1039.98 L1384.71 1046.69 L1390.63 1053.91 L1396.55 1061.73 L1402.46 1070.33 L1408.38 1079.92 L1414.30 1090.85 L1420.22 1103.67 L1426.13 1119.37 L1432.05 1139.98 L1437.97 1170.89 L1443.88 1239.62" fill="none" stroke="#0000ff" stroke-width="8.33" stroke-linejoin="round" stroke-linecap="butt" stroke-dasharray="45.2 25.6" stroke-dashoffset="0"/>
<path d="M340.53 58.00 L343.34 61.43 L349.25 68.41 L355.17 75.13 L361.09 81.63 L367.00 87.95 L372.92 94.11 L378.84 100.15 L384.75 106.07 L390.67 111.90 L396.59 117.65 L402.50 123.33 L408.42 128.94 L414.34 134.49 L420.26 140.00 L426.17 145.46 L432.09 150.89 L438.01 156.27 L443.92 161.63 L449.84 166.96 L455.76 172.27 L461.67 177.55 L467.59 182.81 L473.51 188.05 L479.42 193.28 L485.34 198.50 L491.26 203.69 L497.18 208.88 L503.09 214.06 L509.01 219.22 L514.93 224.38 L520.84 229.53 L526.76 234.67 L532.68 239.81 L538.59 244.94 L544.51 250.06 L550.43 255.18 L556.34 260.29 L562.26 265.40 L568.18 270.50 L574.10 275.61 L580.01 280.71 L585.93 285.80 L591.85 290.90 L597.76 295.99 L603.68 301.07 L609.60 306.16 L615.51 311.25 L621.43 316.33 L627.35 321.41 L633.26 326.49 L639.18 331.57 L645.10 336.65 L651.02 341.73 L656.93 346.80 L662.85 351.88 L668.77 356.95 L674.68 362.03 L680.60 367.10 L686.52 372.17 L692.43 377.25 L698.35 382.32 L704.27 387.39 L710.18 392.46 L716.10 397.53 L722.02 402.60 L727.94 407.67 L733.85 412.74 L739.77 417.81 L745.69 422.88 L751.60 427.95 L757.52 433.02 L763.44 438.09 L769.35 443.15 L775.27 448.22 L781.19 453.29 L787.10 458.36 L793.02 463.43 L798.94 468.49 L804.86 473.56 L810.77 478.63 L816.69 483.70 L822.61 488.76 L828.52 493.83 L834.44 498.90 L840.36 503.97 L846.27 509.03 L852.19 514.10 L858.11 519.17 L864.02 524.23 L869.94 529.30 L875.86 534.37 L881.78 539.43 L887.69 544.50 L893.61 549.57 L899.53 554.64 L905.44 559.70 L911.36 564.77 L917.28 569.84 L923.19 574.90 L929.11 579.97 L935.03 585.04 L940.94 590.10 L946.86 595.17 L952.78 600.24 L958.70 605.30 L964.61 610.37 L970.53 615.44 L976.45 620.50 L982.36 625.57 L988.28 630.64 L994.20 635.70 L1000.11 640.77 L1006.03 645.84 L1011.95 650.90 L1017.86 655.97 L1023.78 661.04 L1029.70 666.10 L1035.62 671.17 L1041.53 676.24 L1047.45 681.30 L1053.37 686.37 L1059.28 691.44 L1065.20 696.50 L1071.12 701.57 L1077.03 706.64 L1082.95 711.70 L1088.87 716.77 L1094.78 721.84 L1100.70 726.90 L1106.62 731.97 L1112.54 737.04 L1118.45 742.10 L1124.37 747.17 L1130.29 752.24 L1136.20 757.30 L1142.12 762.37 L1148.04 767.44 L1153.95 772.50 L1159.87 777.57 L1165.79 782.64 L1171.70 787.70 L1177.62 792.77 L1183.54 797.84 L1189.46 802.90 L1195.37 807.97 L1201.29 813.04 L1207.21 818.10 L1213.12 823.17 L1219.04 828.24 L1224.96 833.30 L1230.87 838.37 L1236.79 843.44 L1242.71 848.50 L1248.62 853.57 L1254.54 858.64 L1260.46 863.70 L1266.38 868.77 L1272.29 873.84 L1278.21 878.90 L1284.13 883.97 L1290.04 889.04 L1295.96 894.10 L1301.88 899.17 L1307.79 904.24 L1313.71 909.30 L1319.63 914.37 L1325.54 919.44 L1331.46 924.50 L1337.38 929.57 L1343.30 934.64 L1349.21 939.70 L1355.13 944.77 L1361.05 949.84 L1366.96 954.90 L1372.88 959.97 L1378.80 965.04 L1384.71 970.10 L1390.63 975.17 L1396.55 980.24 L1402.46 985.30 L1408.38 990.37 L1414.30 995.44 L1420.22 1000.50 L1426.13 1005.57 L1432.05 1010.64 L1437.97 1015.70 L1443.88 1020.77 L1449.80 1025.84 L1455.72 1030.90 L1461.63 1035.97 L1467.55 1041.04 L1473.47 1046.10 L1479.38 1051.17 L1485.30 1056.24 L1491.22 1061.30 L1497.14 1066.37 L1503.05 1071.44 L1508.97 1076.50 L1514.89 1081.57 L1520.80 1086.64 L1526.72 1091.70 L1532.64 1096.77 L1538.55 1101.84 L1544.47 1106.90 L1550.39 1111.97 L1556.30 1117.04 L1562.22 1122.10 L1568.14 1127.17 L1574.06 1132.24 L1579.97 1137.30 L1585.89 1142.37 L1591.81 1147.44 L1597.72 1152.50 L1603.64 1157.57 L1609.56 1162.64 L1615.47 1167.70 L1621.39 1172.77 L1627.31 1177.84 L1633.22 1182.90 L1639.14 1187.97 L1645.06 1193.04 L1650.98 1198.10 L1656.89 1203.17 L1662.81 1208.24 L1668.73 1213.30 L1674.64 1218.37 L1680.56 1223.44 L1686.48 1228.50 L1692.39 1233.57 L1698.31 1238.64 L1704.23 1243.70 L1710.14 1248.77 L1716.06 1253.84 L1721.98 1258.90 L1727.90 1263.97 L1733.81 1269.04 L1739.73 1274.10 L1745.65 1279.17 L1751.56 1284.24 L1757.48 1289.30 L1763.40 1294.37 L1769.31 1299.44 L1775.23 1304.50 L1781.15 1309.57 L1787.06 1314.64 L1792.98 1319.70 L1798.90 1324.77 L1804.82 1329.84 L1810.73 1334.90 L1816.65 1339.97 L1822.57 1345.04 L1828.48 1350.10 L1834.40 1355.17 L1840.32 1360.24 L1846.23 1365.30 L1852.15 1370.37 L1858.07 1375.44 L1863.98 1380.50 L1869.90 1385.57 L1875.82 1390.64 L1881.74 1395.70 L1887.65 1400.77 L1893.57 1405.84 L1899.49 1410.90 L1905.40 1415.97 L1911.32 1421.04 L1917.24 1426.10 L1923.15 1431.17 L1929.07 1436.24 L1934.99 1441.30 L1940.90 1446.37 L1946.82 1451.44 L1952.74 1456.50 L1958.66 1461.57 L1964.57 1466.64 L1970.49 1471.70 L1976.41 1476.77 L1982.32 1481.84 L1988.24 1486.90 L1994.16 1491.97 L2000.07 1497.04 L2005.99 1502.10 L2011.91 1507.17 L2017.82 1512.24 L2023.74 1517.30 L2029.66 1522.37 L2035.58 1527.44 L2041.49 1532.51 L2047.41 1537.57 L2053.33 1542.64 L2059.24 1547.70 L2065.16 1552.77 L2071.08 1557.84 L2076.99 1562.90 L2082.91 1567.97 L2088.83 1573.04 L2094.62 1578.00" fill="none" stroke="#808080" stroke-width="8.33" stroke-dasharray="5.6 12.11" stroke-dashoffset="0"/>
</g>
<rect x="1497" y="115" width="664" height="545.3" fill="#fff" stroke="#262626" stroke-width="4" shape-rendering="crispEdges"/>
<g font-family="'Liberation Sans', sans-serif" fill="#000" font-size="47.0">
<path d="M1514 162.0 H1692" stroke="#ff0000" stroke-width="8.33" fill="none"/>
<text><tspan x="1704.95" y="186.08">N=10</tspan><tspan x="1821.25" y="163.88" font-size="36.3">15</tspan><tspan x="1863.75" y="186.08" font-size="47.25">,p1=p2=0</tspan></text>
<path d="M1514 239.5 H1692" stroke="#ff0000" stroke-width="8.33" fill="none" stroke-dasharray="45.2 25.6"/>
<text><tspan x="1704.95" y="265.90">N=10</tspan><tspan x="1821.25" y="243.70" font-size="36.3">15</tspan><tspan x="1863.75" y="265.90" font-size="47.25">,p1=p2=10</tspan><tspan x="2091.45" y="251.10" font-size="49.6">−</tspan><tspan x="2120.6" y="245.80" font-size="37.5" stroke="#000" stroke-width="2.4">6</tspan></text>
<path d="M1514 317.0 H1692" stroke="#00ff00" stroke-width="8.33" fill="none"/>
<text><tspan x="1704.95" y="346.08">N=10</tspan><tspan x="1821.25" y="323.88" font-size="36.3">13</tspan><tspan x="1863.75" y="346.08" font-size="47.25">,p1=p2=0</tspan></text>
<path d="M1514 394.5 H1692" stroke="#00ff00" stroke-width="8.33" fill="none" stroke-dasharray="45.2 25.6"/>
<text><tspan x="1704.95" y="420.90">N=10</tspan><tspan x="1821.25" y="398.70" font-size="36.3">13</tspan><tspan x="1863.75" y="420.90" font-size="47.25">,p1=p2=10</tspan><tspan x="2091.45" y="406.10" font-size="49.6">−</tspan><tspan x="2120.6" y="400.80" font-size="37.5" stroke="#000" stroke-width="2.4">6</tspan></text>
<path d="M1514 472.0 H1692" stroke="#0000ff" stroke-width="8.33" fill="none"/>
<text><tspan x="1704.95" y="500.97">N=10</tspan><tspan x="1821.25" y="478.77" font-size="36.3">12</tspan><tspan x="1863.75" y="500.97" font-size="47.25">,p1=p2=0</tspan></text>
<path d="M1514 549.5 H1692" stroke="#0000ff" stroke-width="8.33" fill="none" stroke-dasharray="45.2 25.6"/>
<text><tspan x="1704.95" y="575.96">N=10</tspan><tspan x="1821.25" y="553.76" font-size="36.3">12</tspan><tspan x="1863.75" y="575.96" font-size="47.25">,p1=p2=10</tspan><tspan x="2091.45" y="561.16" font-size="49.6">−</tspan><tspan x="2120.6" y="555.86" font-size="37.5" stroke="#000" stroke-width="2.4">6</tspan></text>
<path d="M1514 620.4 H1692" stroke="#808080" stroke-width="8.33" fill="none" stroke-dasharray="5.6 12.11"/>
<text x="1705.1" y="637.9">PLOB bound</text>
</g>
</svg>
</body></html>
